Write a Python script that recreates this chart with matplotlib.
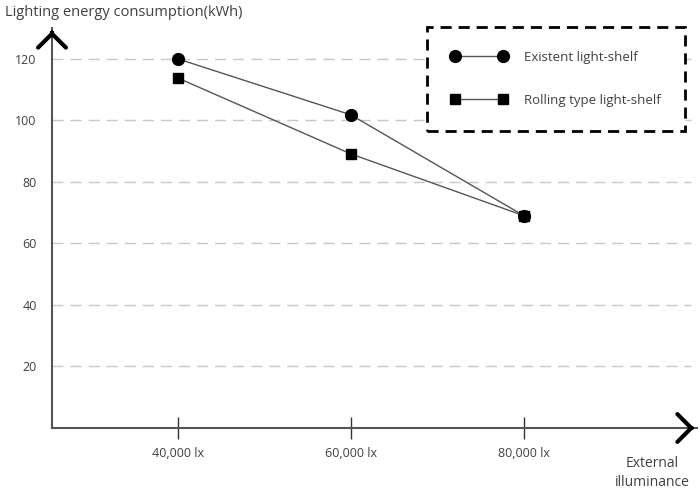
import matplotlib.pyplot as plt
import numpy as np

plt.rcParams['font.family'] = ['Open Sans', 'DejaVu Sans']

illuminance = [40000, 60000, 80000]
tick_labels = ['40,000 lx', '60,000 lx', '80,000 lx']
existent = [120.0, 101.8, 69.0]
rolling = [113.8, 89.1, 69.0]
y_ticks = [20, 40, 60, 80, 100, 120]

fig = plt.figure(figsize=(7, 4.92), dpi=100)
ax = fig.add_axes([52/700, 1-428/492, 645/700, 400/492])
ax.set_xlim(25500, 100000)
ax.set_ylim(0, 130)

txt = '#404040'

# grid
for v in y_ticks:
	ax.axhline(v, xmin=0, xmax=0.99, color='#c8c8c8', lw=1, dashes=(8, 5), zorder=0)

ax.plot(illuminance, existent, color='#555555', lw=1, marker='o', markersize=8.5,
		markerfacecolor='black', markeredgecolor='black', label='Existent light-shelf', zorder=4)
ax.plot(illuminance, rolling, color='#555555', lw=1, marker='s', markersize=6.5,
		markerfacecolor='black', markeredgecolor='black', label='Rolling type light-shelf', zorder=3)

for s in ['top', 'right']:
	ax.spines[s].set_visible(False)
for s in ['left', 'bottom']:
	ax.spines[s].set_color('#555555')
	ax.spines[s].set_linewidth(1.5)

ax.set_xticks(illuminance)
ax.set_xticklabels(tick_labels, fontsize=9, color=txt)
ax.set_yticks(y_ticks)
ax.set_yticklabels([str(v) for v in y_ticks], fontsize=9, color=txt)
ax.tick_params(axis='x', direction='inout', length=16, width=1, color='#333333', pad=6)
ax.tick_params(axis='y', length=0, pad=11)

# chevrons at axis ends
ax.annotate('', xy=(1.0, 0), xytext=(0.985, 0), xycoords='axes fraction',
			arrowprops=dict(arrowstyle='->,head_length=1.0,head_width=1.0', lw=3, color='black'))
ax.annotate('', xy=(0, 1.0), xytext=(0, 0.98), xycoords='axes fraction',
			arrowprops=dict(arrowstyle='->,head_length=1.0,head_width=1.0', lw=3, color='black'))

fig.text(5/700, 1-12/492, 'Lighting energy consumption(kWh)', fontsize=10.5, color=txt, va='center', ha='left')
fig.text(652/700, 1-473/492, 'External\nilluminance', fontsize=10, color=txt, va='center', ha='center', linespacing=1.3)

leg = ax.legend(loc='upper right', bbox_to_anchor=(685/700, 1-27/492), bbox_transform=fig.transFigure,
				numpoints=2, handlelength=4.3, labelspacing=2.3, fontsize=9.5, borderpad=1.8,
				borderaxespad=0, fancybox=False, handletextpad=1.3, framealpha=1)
for t in leg.get_texts():
	t.set_color(txt)
frame = leg.get_frame()
frame.set_edgecolor('black')
frame.set_linewidth(2)
frame.set_linestyle((0, (4, 2.5)))

plt.savefig('out.png', dpi=100)
